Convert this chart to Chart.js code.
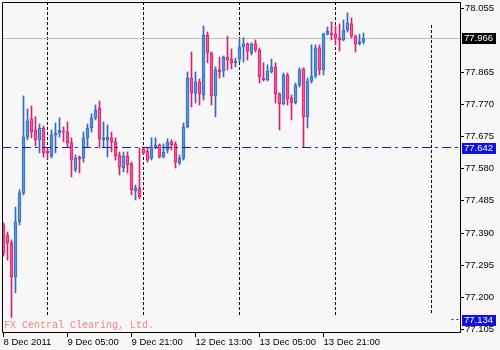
<!DOCTYPE html>
<html>
<head>
<meta charset="utf-8">
<script src="https://cdn.jsdelivr.net/npm/chart.js@4.4.1/dist/chart.umd.min.js"></script>
<style>
  html, body { margin: 0; padding: 0; background: #f7f7f7; }
  canvas { display: block; }
</style>
</head>
<body>
<canvas id="chart" width="500" height="350"></canvas>
<script>
// H1 candles, 8 Dec 2011 13:00 onwards (index 0 = first bar)
const opens = [
  77.414, 77.384, 77.361, 77.260, 77.423, 77.509, 77.674, 77.728, 77.695, 77.666,
  77.701, 77.633, 77.618, 77.680, 77.686, 77.692, 77.689, 77.657, 77.577, 77.615,
  77.612, 77.672, 77.701, 77.731, 77.760, 77.666, 77.666, 77.672, 77.660, 77.621,
  77.583, 77.618, 77.595, 77.515, 77.524, 77.639, 77.633, 77.612, 77.642, 77.651,
  77.615, 77.636, 77.660, 77.654, 77.598, 77.612, 77.704, 77.849, 77.805, 77.837,
  77.799, 77.976, 77.923, 77.796, 77.873, 77.870, 77.911, 77.905, 77.894, 77.905,
  77.941, 77.950, 77.923, 77.950, 77.932, 77.849, 77.843, 77.867, 77.882, 77.802,
  77.772, 77.858, 77.790, 77.775, 77.828, 77.876, 77.734, 77.840, 77.855, 77.938,
  77.873, 77.979, 77.982, 77.979, 77.968, 77.962, 77.991, 78.009, 77.973, 77.950,
  77.956
];
const highs = [
  77.420, 77.393, 77.370, 77.467, 77.518, 77.796, 77.757, 77.766, 77.734, 77.713,
  77.707, 77.639, 77.695, 77.716, 77.731, 77.704, 77.719, 77.672, 77.621, 77.618,
  77.689, 77.713, 77.743, 77.769, 77.781, 77.719, 77.710, 77.689, 77.672, 77.630,
  77.630, 77.630, 77.600, 77.532, 77.642, 77.645, 77.642, 77.672, 77.672, 77.654,
  77.654, 77.669, 77.666, 77.660, 77.621, 77.716, 77.867, 77.926, 77.867, 77.846,
  78.003, 77.985, 77.926, 77.882, 77.911, 77.914, 77.973, 77.935, 77.908, 77.962,
  77.968, 77.953, 77.953, 77.962, 77.938, 77.894, 77.888, 77.905, 77.894, 77.805,
  77.864, 77.864, 77.799, 77.834, 77.879, 77.879, 77.849, 77.947, 77.947, 77.947,
  77.982, 78.000, 78.015, 78.003, 78.009, 78.021, 78.042, 78.027, 77.976, 77.979,
  77.982
];
const lows = [
  77.322, 77.310, 77.140, 77.213, 77.414, 77.503, 77.666, 77.672, 77.648, 77.627,
  77.615, 77.609, 77.612, 77.627, 77.674, 77.660, 77.645, 77.556, 77.571, 77.568,
  77.600, 77.645, 77.689, 77.725, 77.642, 77.642, 77.615, 77.630, 77.606, 77.562,
  77.571, 77.568, 77.503, 77.488, 77.491, 77.624, 77.600, 77.606, 77.639, 77.612,
  77.612, 77.627, 77.636, 77.583, 77.592, 77.606, 77.701, 77.763, 77.775, 77.769,
  77.784, 77.894, 77.769, 77.734, 77.849, 77.852, 77.873, 77.876, 77.882, 77.896,
  77.896, 77.902, 77.917, 77.926, 77.834, 77.840, 77.840, 77.864, 77.775, 77.695,
  77.769, 77.769, 77.725, 77.772, 77.822, 77.645, 77.701, 77.834, 77.849, 77.858,
  77.858, 77.976, 77.962, 77.947, 77.929, 77.959, 77.985, 77.968, 77.926, 77.947,
  77.950
];
const closes = [
  77.331, 77.361, 77.260, 77.423, 77.509, 77.674, 77.722, 77.689, 77.666, 77.701,
  77.627, 77.627, 77.680, 77.686, 77.695, 77.689, 77.657, 77.606, 77.612, 77.609,
  77.672, 77.701, 77.731, 77.754, 77.669, 77.672, 77.674, 77.660, 77.618, 77.586,
  77.618, 77.592, 77.518, 77.524, 77.497, 77.627, 77.606, 77.645, 77.651, 77.615,
  77.630, 77.660, 77.651, 77.600, 77.612, 77.704, 77.849, 77.805, 77.837, 77.802,
  77.976, 77.923, 77.796, 77.873, 77.867, 77.911, 77.902, 77.894, 77.899, 77.941,
  77.950, 77.929, 77.950, 77.932, 77.852, 77.843, 77.870, 77.882, 77.802, 77.772,
  77.858, 77.787, 77.775, 77.828, 77.873, 77.734, 77.840, 77.855, 77.938, 77.873,
  77.979, 77.988, 77.976, 77.968, 77.962, 77.991, 78.012, 77.973, 77.950, 77.957,
  77.966
];

// axis texts
const timeTickIdx = [0, 16, 32, 48, 64, 80];
const timeTickLabels = ['8 Dec 2011', '9 Dec 05:00', '9 Dec 21:00', '12 Dec 13:00', '13 Dec 05:00', '13 Dec 21:00'];
const daySepIdx = [11, 35, 59, 83, 107];
const priceTicks = [77.105, 77.200, 77.295, 77.390, 77.485, 77.580, 77.675, 77.770, 77.865, 78.055];

// lines / price marks
const bidPrice = 77.966;
const hLinePrice = 77.642;
const lowMarkPrice = 77.134;
const markPrices = [77.966, 77.642, 77.134];

const isUp = closes.map((c, i) => c >= opens[i]);
const UP_LINE = '#2f6cc0', UP_FILL = '#5595e2';
const DN_LINE = '#dc1f6c', DN_FILL = '#ee5a94';
const FONT = '9.5px "Liberation Sans", Arial, sans-serif';

const decor = {
  id: 'decor',
  beforeDraw(chart) {
    const { ctx, width, height } = chart;
    ctx.save();
    ctx.fillStyle = '#f7f7f7';
    ctx.fillRect(0, 0, width, height);
    ctx.restore();
  },
  beforeDatasetsDraw(chart) {
    const { ctx, chartArea: a, scales: { x, y } } = chart;
    ctx.save();
    ctx.lineWidth = 1;
    // period separators
    ctx.strokeStyle = '#000';
    ctx.setLineDash([3, 2]);
    daySepIdx.forEach((i, k) => {
      const px = Math.floor(x.getPixelForValue(i)) + 0.5;
      ctx.beginPath();
      ctx.moveTo(px, k === daySepIdx.length - 1 ? 25 : a.top);
      ctx.lineTo(px, 315);
      ctx.stroke();
    });
    // bid line
    ctx.setLineDash([]);
    ctx.strokeStyle = '#c0c0c0';
    const by = Math.floor(y.getPixelForValue(bidPrice)) + 0.5;
    ctx.beginPath(); ctx.moveTo(a.left, by); ctx.lineTo(a.right, by); ctx.stroke();
    ctx.restore();
  },
  afterDatasetsDraw(chart) {
    const { ctx, chartArea: a, scales: { x, y } } = chart;
    ctx.save();
    ctx.lineWidth = 1;
    ctx.strokeStyle = '#1c1cb0';
    ctx.setLineDash([9, 4, 3, 4]);
    const hy = Math.floor(y.getPixelForValue(hLinePrice)) + 0.5;
    ctx.beginPath(); ctx.moveTo(a.left, hy); ctx.lineTo(a.right, hy); ctx.stroke();
    // small piece at the low mark
    ctx.setLineDash([2, 3]);
    const ly = Math.floor(y.getPixelForValue(lowMarkPrice)) + 0.5;
    ctx.beginPath(); ctx.moveTo(x.getPixelForValue(112), ly); ctx.lineTo(a.right, ly); ctx.stroke();
    ctx.restore();
  },
  afterDraw(chart) {
    const { ctx, chartArea: a, scales: { x, y } } = chart;
    ctx.save();
    ctx.lineWidth = 1;
    ctx.strokeStyle = '#000';
    ctx.setLineDash([]);
    // frame
    ctx.beginPath();
    ctx.moveTo(a.left + 0.5, a.bottom + 0.5);
    ctx.lineTo(a.left + 0.5, a.top + 0.5);
    ctx.lineTo(a.right + 0.5, a.top + 0.5);
    ctx.lineTo(a.right + 0.5, a.bottom + 0.5);
    ctx.lineTo(a.left + 0.5, a.bottom + 0.5);
    ctx.stroke();

    ctx.font = FONT;
    ctx.fillStyle = '#000';
    // price ticks
    ctx.textAlign = 'left';
    ctx.textBaseline = 'middle';
    priceTicks.forEach(v => {
      const py = Math.floor(y.getPixelForValue(v)) + 0.5;
      ctx.beginPath(); ctx.moveTo(a.right, py); ctx.lineTo(a.right + 4, py); ctx.stroke();
      ctx.fillText(v.toFixed(3), a.right + 5, py);
    });
    // time ticks
    ctx.textBaseline = 'alphabetic';
    timeTickIdx.forEach((i, k) => {
      const px = Math.floor(x.getPixelForValue(i)) + 0.5;
      ctx.beginPath(); ctx.moveTo(px, a.bottom); ctx.lineTo(px, a.bottom + 5); ctx.stroke();
      ctx.fillText(timeTickLabels[k], px, a.bottom + 13);
    });
    // price marks
    const markBg = ['#000000', '#1010e8', '#1010e8'];
    ctx.textBaseline = 'middle';
    markPrices.forEach((v, k) => {
      const py = Math.round(y.getPixelForValue(v));
      ctx.fillStyle = markBg[k];
      ctx.fillRect(a.right + 2, py - 5, 34, 11);
      ctx.fillStyle = '#fff';
      ctx.fillText(v.toFixed(3), a.right + 4, py + 0.5);
    });
    // watermark
    ctx.fillStyle = '#f08484';
    ctx.font = '10px "Liberation Mono", monospace';
    ctx.textBaseline = 'alphabetic';
    ctx.fillText('FX Central Clearing, Ltd.', 4, 328);
    ctx.restore();
  }
};

new Chart(document.getElementById('chart'), {
  type: 'bar',
  data: {
    datasets: [
      {
        data: closes.map((c, i) => ({ x: i, y: [opens[i], c] })),
        backgroundColor: isUp.map(u => u ? UP_FILL : DN_FILL),
        borderColor: isUp.map(u => u ? UP_LINE : DN_LINE),
        borderWidth: 1,
        borderSkipped: false,
        barThickness: 3,
        minBarLength: 1,
        grouped: false
      },
      {
        data: lows.map((l, i) => ({ x: i, y: [l, highs[i]] })),
        backgroundColor: isUp.map(u => u ? UP_LINE : DN_LINE),
        borderWidth: 0,
        barThickness: 1,
        grouped: false
      }
    ]
  },
  options: {
    responsive: false,
    animation: false,
    events: [],
    layout: { padding: { left: 2, top: 2, right: 40, bottom: 18 } },
    scales: {
      x: { type: 'linear', display: false, offset: false, min: -0.375, max: 114.125 },
      y: { type: 'linear', display: false, beginAtZero: false, min: 77.097, max: 78.074 }
    },
    plugins: { legend: { display: false }, tooltip: { enabled: false } }
  },
  plugins: [decor]
});
</script>
</body>
</html>
